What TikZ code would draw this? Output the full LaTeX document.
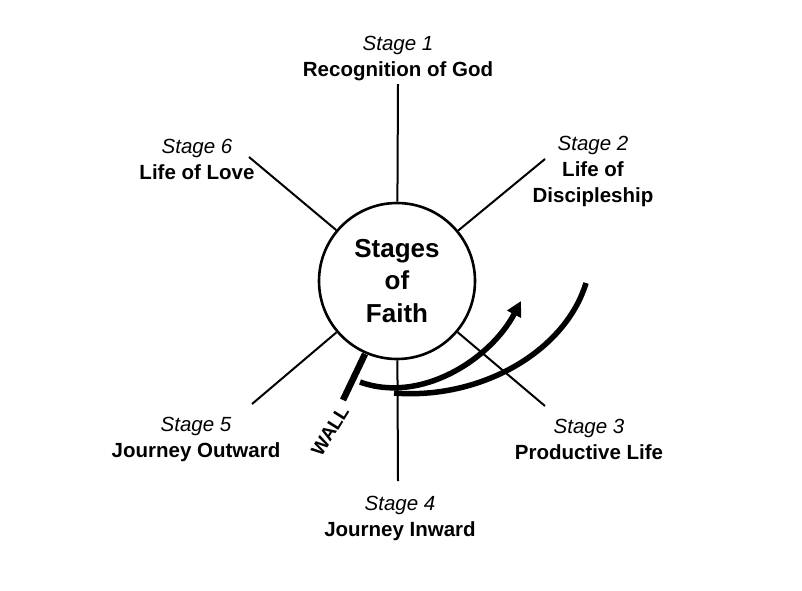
\documentclass[tikz,border=0pt]{standalone}
\usepackage{fontspec}
\setmainfont{Liberation Sans}
\usetikzlibrary{arrows.meta}
\begin{document}
\begin{tikzpicture}[x=1pt,y=-1pt,
  spoke/.style={line width=2pt},
  lbl/.style={align=center,inner sep=0pt,font=\fontsize{20.5}{26}\selectfont},
  thick arc/.style={line width=5.5pt},
]
\useasboundingbox (0,0) rectangle (802,590);
\node[circle,draw,line width=2.6pt,minimum size=156pt,inner sep=0pt,align=center,
  font=\fontsize{26}{32.5}\selectfont\bfseries] (c) at (397,281) {Stages\\of\\Faith};
% spoke ends
\coordinate (e1) at (398,84);
\coordinate (e2) at (545,159);
\coordinate (e3) at (545,406);
\coordinate (e4) at (398,481);
\coordinate (e5) at (252,404);
\coordinate (e6) at (249,157);
\foreach \i in {1,...,6} {\draw[spoke] (c) -- (e\i);}
% labels
\node[lbl] (l1) at (398,59) {\textit{Stage 1}\\\textbf{Recognition of God}};
\node[lbl] (l2) at (593,171) {\textit{Stage 2}\\\textbf{Life of}\\\textbf{Discipleship}};
\node[lbl] (l6) at (197,159) {\textit{Stage 6}\\\textbf{Life of Love}};
\node[lbl] (l5) at (196,439) {\textit{Stage 5}\\\textbf{Journey Outward}};
\node[lbl] (l3) at (589,439) {\textit{Stage 3}\\\textbf{Productive Life}};
\node[lbl] (l4) at (400,518) {\textit{Stage 4}\\\textbf{Journey Inward}};
% wall
\coordinate (w1) at (365,354);
\coordinate (w2) at (343,400);
\draw[line width=6.5pt] (w1) -- (w2);
\node[font=\fontsize{19}{20}\selectfont\bfseries,rotate=58,inner sep=0pt] (wall) at (330,431) {WALL};
% arcs
\coordinate (a1s) at (360,382);
\coordinate (a1e) at (521,301);
\coordinate (a2s) at (394,393);
\coordinate (a2e) at (586,283);
\draw[thick arc,-{Triangle[length=15pt,width=15pt]}] (a1s) .. controls (420,404) and (490,360) .. (a1e);
\draw[thick arc] (a2s) .. controls (480,400) and (565,352) .. (a2e);
\end{tikzpicture}
\end{document}
